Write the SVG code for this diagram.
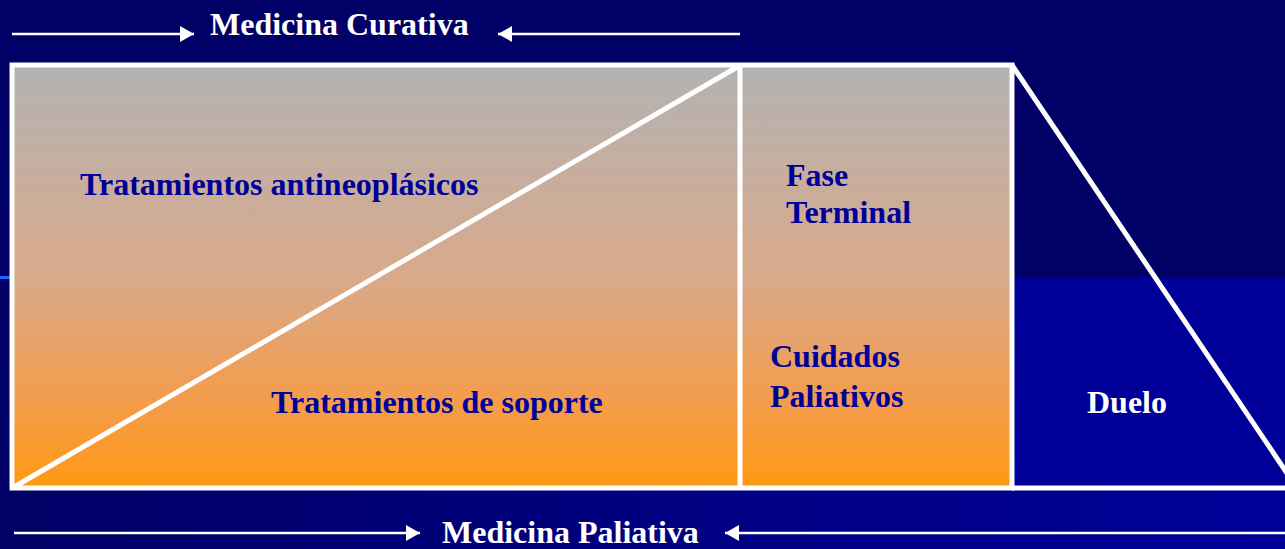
<svg xmlns="http://www.w3.org/2000/svg" width="1285" height="549" viewBox="0 0 1285 549">
  <defs>
    <linearGradient id="bandGrad" x1="0" y1="0" x2="1" y2="0">
      <stop offset="0" stop-color="#000066"/>
      <stop offset="1" stop-color="#000099"/>
    </linearGradient>
    <linearGradient id="boxGrad" x1="0" y1="0" x2="0" y2="1">
      <stop offset="0" stop-color="#B3B3B3"/>
      <stop offset="0.5" stop-color="#D8A98B"/>
      <stop offset="0.8" stop-color="#F49C4A"/>
      <stop offset="1" stop-color="#FF9912"/>
    </linearGradient>
    <marker id="arrow" markerUnits="userSpaceOnUse" markerWidth="16" markerHeight="16" refX="14" refY="8" orient="auto">
      <path d="M0,0 L14,8 L0,16 Z" fill="#FFFFFF"/>
    </marker>
    <style>
      .lbl { font-family: "Liberation Serif", "Times New Roman", serif; font-weight: bold; font-size: 32px; }
      .dark { fill: #000099; }
      .light { fill: #FFFFFF; }
      .edge { stroke: #FFFFFF; stroke-width: 5; fill: none; }
      .conn { stroke: #FFFFFF; stroke-width: 2.5; fill: none; marker-end: url(#arrow); }
    </style>
  </defs>

  <!-- background -->
  <rect x="0" y="0" width="1285" height="549" fill="#000066"/>
  <rect x="0" y="277" width="1285" height="272" fill="url(#bandGrad)"/>
  <rect x="0" y="276" width="12" height="3" fill="#1A66FF"/>

  <g id="node-duelo">
    <rect x="1012" y="277" width="273" height="211" fill="#000099"/>
    <line class="edge" x1="1012" y1="65" x2="1297" y2="488"/>
    <line class="edge" x1="1012" y1="488" x2="1285" y2="488"/>
    <text class="lbl light" x="1087" y="413">Duelo</text>
  </g>

  <g id="node-curativa-box">
    <rect x="12" y="65" width="1000" height="423" fill="url(#boxGrad)"/>
    <rect class="edge" x="12" y="65" width="1000" height="423"/>
    <line class="edge" x1="14" y1="487" x2="739" y2="66"/>
  </g>

  <g id="node-tratamientos-antineoplasicos">
    <text class="lbl dark" x="80" y="195">Tratamientos antineoplásicos</text>
  </g>

  <g id="node-tratamientos-soporte">
    <text class="lbl dark" x="271" y="413">Tratamientos de soporte</text>
  </g>

  <g id="node-fase-terminal">
    <line class="edge" x1="740" y1="65" x2="740" y2="488"/>
    <text class="lbl dark" x="786" y="186">Fase</text>
    <text class="lbl dark" x="786" y="223">Terminal</text>
    <text class="lbl dark" x="770" y="367">Cuidados</text>
    <text class="lbl dark" x="770" y="407">Paliativos</text>
  </g>

  <g id="node-medicina-curativa">
    <text class="lbl light" x="210" y="35">Medicina Curativa</text>
  </g>

  <g id="node-medicina-paliativa">
    <text class="lbl light" x="442" y="543">Medicina Paliativa</text>
  </g>

  <g id="connectors">
    <line class="conn" x1="12" y1="34" x2="194" y2="34"/>
    <line class="conn" x1="740" y1="34" x2="498" y2="34"/>
    <line class="conn" x1="14" y1="533" x2="420" y2="533"/>
    <line class="conn" x1="1285" y1="533" x2="725" y2="533"/>
  </g>
</svg>
